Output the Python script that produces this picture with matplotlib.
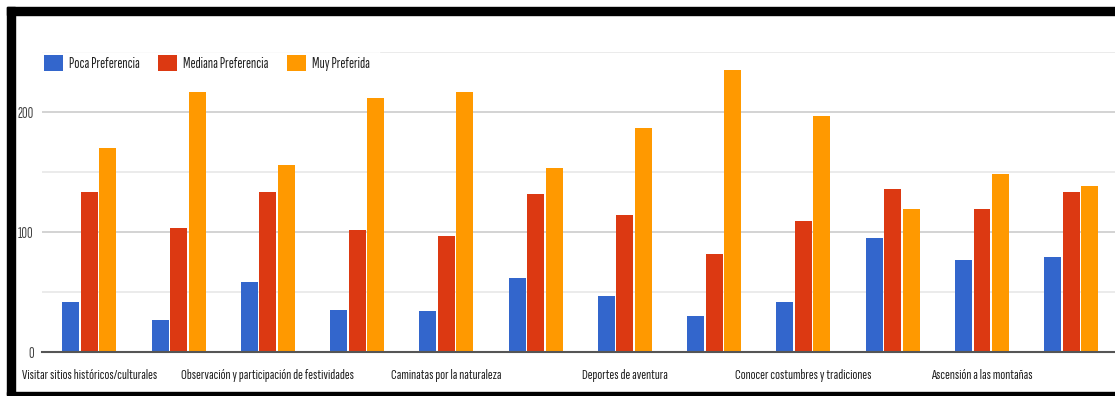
import numpy as np
import matplotlib.pyplot as plt
from matplotlib.patches import Rectangle

# preference counts per activity (12 activities, only every other one is labelled)
poca = [42, 27, 58, 35, 34, 62, 47, 30, 42, 95, 77, 79]
mediana = [133, 103, 133, 102, 97, 132, 114, 82, 109, 136, 119, 133]
muy = [170, 217, 156, 212, 217, 153, 187, 235, 197, 119, 148, 138]
labels = ["Visitar sitios históricos/culturales",
          "Observación y participación de festividades",
          "Caminatas por la naturaleza",
          "Deportes de aventura",
          "Conocer costumbres y tradiciones",
          "Ascensión a las montañas"]
series = ["Poca Preferencia", "Mediana Preferencia", "Muy Preferida"]
colors = ["#3366cc", "#dc3912", "#ff9900"]

plt.rcParams['font.family'] = ['Sofia Sans Extra Condensed', 'DejaVu Sans']

W, H = 1115, 396
fig = plt.figure(figsize=(W / 100, H / 100), dpi=100)
ax = fig.add_axes([42 / W, (H - 352) / H, 1 - 42 / W, 300 / H])

x = np.arange(len(poca))
step = 0.207
for i, (vals, c, name) in enumerate(zip([poca, mediana, muy], colors, series)):
    ax.bar(x + (i - 1) * step, vals, width=0.19, color=c, label=name, zorder=3)

ax.set_xlim(-0.53, 11.49)
ax.set_ylim(0, 250)
ax.set_yticks([0, 100, 200])
ax.set_yticks([50, 150, 250], minor=True)
ax.grid(axis='y', which='major', color='#cccccc', lw=1.2, zorder=0)
ax.grid(axis='y', which='minor', color='#e8e8e8', lw=1.2, zorder=0)
ax.tick_params(axis='y', which='both', length=0, pad=6, labelsize=11, labelcolor='#444444')
ax.set_xticks(x[::2])
ax.set_xticklabels(labels)
ax.tick_params(axis='x', length=0, pad=12, labelsize=10.5, labelcolor='#222222')
for s in ['top', 'right', 'left']:
    ax.spines[s].set_visible(False)
ax.spines['bottom'].set_color('#555555')
ax.spines['bottom'].set_linewidth(1.5)
ax.spines['bottom'].set_zorder(4)

leg = ax.legend(loc='center left', bbox_to_anchor=(-0.007, 1 - 11 / 300), ncol=3,
                frameon=True, fontsize=11, handlelength=1.25, handleheight=1.25,
                handletextpad=0.4, columnspacing=1.2, borderaxespad=0, borderpad=0.6,
                labelcolor='#222222')
leg.get_frame().set_facecolor('white')
leg.get_frame().set_edgecolor('white')
leg.set_zorder(5)

# black frame around the chart
def frame(x0, y0, x1, y1):
    fig.add_artist(Rectangle((x0 / W, 1 - y1 / H), (x1 - x0) / W, (y1 - y0) / H,
                             transform=fig.transFigure, color='black', zorder=10))

frame(7, 7, W, 15)
frame(7, 7, 15, 395)
frame(7, 392, W, 395)

fig.savefig("out.png", dpi=100)
